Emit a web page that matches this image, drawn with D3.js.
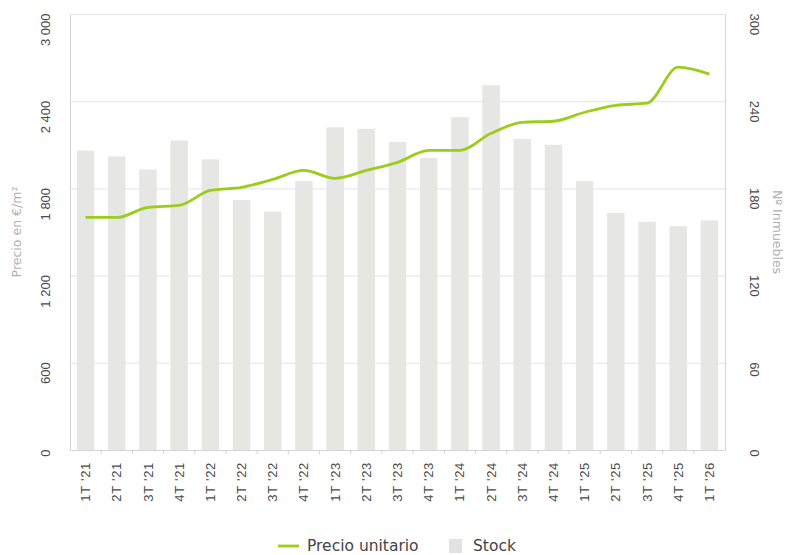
<!DOCTYPE html>
<meta charset="utf-8">
<head>
  <title>Precio unitario y stock</title>
</head>
<style>
body {
  margin: 0;
  background: #fff;
  font-family: "DejaVu Sans", Verdana, sans-serif;
}
.tick text { fill: #4a4a4a; font-size: 13px; }
</style>
<body>
<script src="https://d3js.org/d3.v7.min.js"></script>
<script>

var quarters = ["1T '21","2T '21","3T '21","4T '21","1T '22","2T '22","3T '22","4T '22",
  "1T '23","2T '23","3T '23","4T '23","1T '24","2T '24","3T '24","4T '24",
  "1T '25","2T '25","3T '25","4T '25","1T '26"];

// Nº inmuebles (eje derecho)
var stock = [206, 202, 193, 213, 200, 172, 164, 185, 222, 221, 212, 201,
  229, 251, 214, 210, 185, 163, 157, 154, 158];

// precio en €/m2 (eje izquierdo)
var precio = [1600, 1600, 1669, 1683, 1786, 1807, 1862, 1924, 1869, 1924, 1979, 2062,
  2062, 2179, 2255, 2262, 2324, 2372, 2386, 2634, 2586];

var priceTicks = [0, 600, 1200, 1800, 2400, 3000];
var stockTicks = [0, 60, 120, 180, 240, 300];

var w = 787, h = 555;
var margin = {top: 14, right: 62, bottom: 105, left: 70};

var svg = d3.select("body").append("svg")
  .attr("width", w)
  .attr("height", h);

var x = d3.scaleBand()
  .domain(quarters)
  .range([margin.left, w - margin.right])
  .paddingInner(0.44)
  .paddingOuter(0.22);

var yL = d3.scaleLinear().domain([0, 3000]).range([h - margin.bottom, margin.top]);
var yR = d3.scaleLinear().domain([0, 300]).range([h - margin.bottom, margin.top]);

// gridlines
svg.append("g")
  .selectAll("line")
  .data(priceTicks.slice(1))
  .join("line")
  .attr("x1", margin.left)
  .attr("x2", w - margin.right)
  .attr("y1", function(d) { return yL(d) + 0.5; })
  .attr("y2", function(d) { return yL(d) + 0.5; })
  .attr("stroke", "#e4e4e4");

// barras stock
svg.append("g")
  .selectAll("rect")
  .data(stock)
  .join("rect")
  .attr("x", function(d, i) { return x(quarters[i]); })
  .attr("width", x.bandwidth())
  .attr("y", function(d) { return yR(d); })
  .attr("height", function(d) { return yR(0) - yR(d); })
  .attr("fill", "#e6e6e4");

// linea precio
var line = d3.line()
  .x(function(d, i) { return x(quarters[i]) + x.bandwidth() / 2; })
  .y(function(d) { return yL(d); })
  .curve(d3.curveMonotoneX);

svg.append("path")
  .datum(precio)
  .attr("d", line)
  .attr("fill", "none")
  .attr("stroke", "#9ccc1c")
  .attr("stroke-width", 2.8);

// ejes
var axisColor = "#d4d4d4";

var left = svg.append("g")
  .attr("transform", "translate(" + margin.left + ",0)")
  .call(d3.axisLeft(yL).tickValues(priceTicks).tickSize(0).tickPadding(0)
    .tickFormat(function(d) { return d3.format(",")(d).replace(",", " "); }));
left.select(".domain").attr("stroke", axisColor);
left.selectAll(".tick text")
  .attr("text-anchor", "end")
  .attr("transform", "translate(-25,-1) rotate(-90)")
  .attr("x", 0).attr("dy", "0.35em");

var right = svg.append("g")
  .attr("transform", "translate(" + (w - margin.right) + ",0)")
  .call(d3.axisRight(yR).tickValues(stockTicks).tickSize(0).tickPadding(0));
right.select(".domain").attr("stroke", axisColor);
right.selectAll(".tick text")
  .attr("text-anchor", "start")
  .attr("transform", "translate(30,-1) rotate(90)")
  .attr("x", 0).attr("dy", "0.35em");

var bottom = svg.append("g")
  .attr("transform", "translate(0," + (h - margin.bottom) + ")")
  .call(d3.axisBottom(x).tickSize(0).tickPadding(0));
bottom.select(".domain").attr("stroke", axisColor);
bottom.selectAll(".tick text")
  .attr("text-anchor", "end")
  .attr("transform", "translate(0,12) rotate(-90)")
  .attr("x", 0).attr("y", 0).attr("dy", "0.35em")
  .attr("letter-spacing", "0.7px");

// marcas entre barras
var step = x.step();
svg.append("g")
  .selectAll("line")
  .data(quarters.slice(1))
  .join("line")
  .attr("x1", function(d) { return x(d) - (step - x.bandwidth()) / 2; })
  .attr("x2", function(d) { return x(d) - (step - x.bandwidth()) / 2; })
  .attr("y1", h - margin.bottom)
  .attr("y2", h - margin.bottom + 4)
  .attr("stroke", axisColor);

// titulos de ejes
svg.append("text")
  .attr("transform", "translate(17," + ((h - margin.bottom + margin.top) / 2) + ") rotate(-90)")
  .attr("text-anchor", "middle")
  .attr("dy", "0.35em")
  .attr("fill", "#b0b0b0")
  .attr("font-size", 12.5)
  .text("Precio en €/m²");

svg.append("text")
  .attr("transform", "translate(777," + ((h - margin.bottom + margin.top) / 2) + ") rotate(90)")
  .attr("text-anchor", "middle")
  .attr("dy", "0.35em")
  .attr("fill", "#b0b0b0")
  .attr("font-size", 12.5)
  .text("Nº Inmuebles");

// leyenda
var legend = svg.append("g").attr("transform", "translate(0,546)");
legend.append("line")
  .attr("x1", 278).attr("x2", 299)
  .attr("stroke", "#9ccc1c").attr("stroke-width", 2.8);
legend.append("text")
  .attr("x", 307).attr("dy", "0.35em")
  .attr("fill", "#444").attr("font-size", 15.5)
  .text("Precio unitario");
legend.append("rect")
  .attr("x", 449).attr("y", -7).attr("width", 13).attr("height", 14)
  .attr("fill", "#e2e2e2");
legend.append("text")
  .attr("x", 473).attr("dy", "0.35em")
  .attr("fill", "#444").attr("font-size", 15.5)
  .text("Stock");

</script>
</body>
